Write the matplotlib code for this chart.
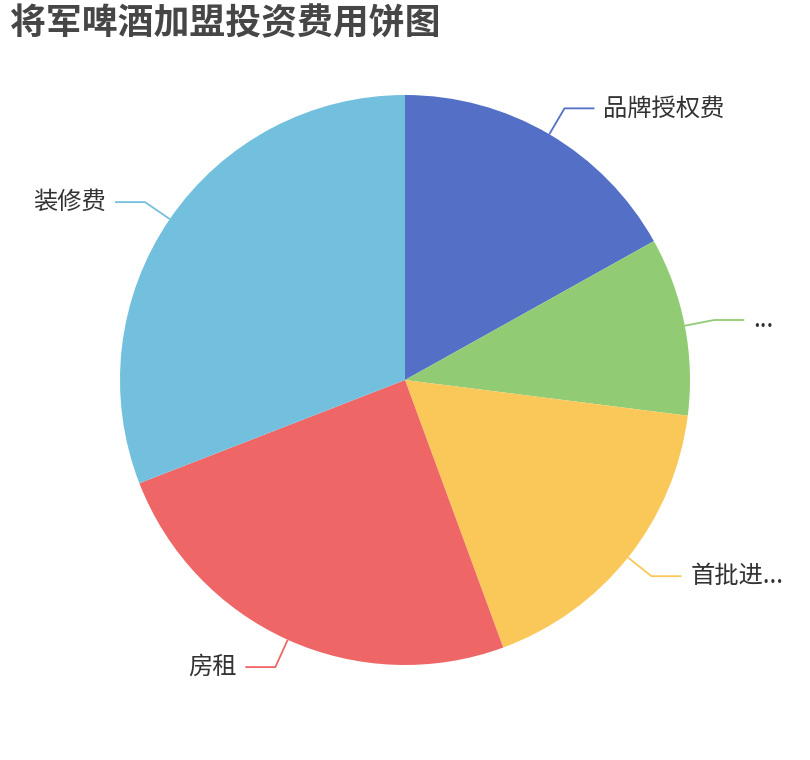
import numpy as np
import matplotlib
matplotlib.use("Agg")
import matplotlib.pyplot as plt

plt.rcParams["font.family"] = ["Noto Sans CJK SC", "DejaVu Sans"]

# données (parts estimées en %)
noms = ["品牌授权费", "其他费用", "首批进货费", "房租", "装修费"]
etiquettes = ["品牌授权费", "...", "首批进...", "房租", "装修费"]
valeurs = [16.9, 10.1, 17.4, 24.7, 30.9]
couleurs = ["#5470c6", "#91cc75", "#fac858", "#ee6666", "#73c0de"]
titre = "将军啤酒加盟投资费用饼图"

fig = plt.figure(figsize=(8.1, 7.6), dpi=100)
ax = fig.add_axes([0, 0, 1, 1])

cx, cy, r = 405, 380, 285
wedges, _ = ax.pie(
    valeurs,
    colors=couleurs,
    startangle=90,
    counterclock=False,
    center=(cx, cy),
    radius=r,
    frame=True,
)
ax.set_xlim(0, 810)
ax.set_ylim(0, 760)
ax.axis("off")

# lignes de rappel + étiquettes
for w, lab, col in zip(wedges, etiquettes, couleurs):
    ang = np.deg2rad((w.theta1 + w.theta2) / 2)
    x0, y0 = cx + r * np.cos(ang), cy + r * np.sin(ang)
    x1, y1 = cx + (r + 30) * np.cos(ang), cy + (r + 30) * np.sin(ang)
    sens = 1 if np.cos(ang) >= 0 else -1
    x2 = x1 + sens * 30
    ax.plot([x0, x1, x2], [y0, y1, y1], color=col, lw=1.3, solid_capstyle="butt")
    ax.text(
        x2 + sens * 9,
        y1,
        lab,
        ha="left" if sens > 0 else "right",
        va="center",
        fontsize=17.5,
        color="#333333",
    )

fig.text(10 / 810, 1 - 24 / 760, titre, fontsize=25.8, fontweight="bold",
         color="#464646", ha="left", va="center")

fig.savefig("out.png", dpi=100)
